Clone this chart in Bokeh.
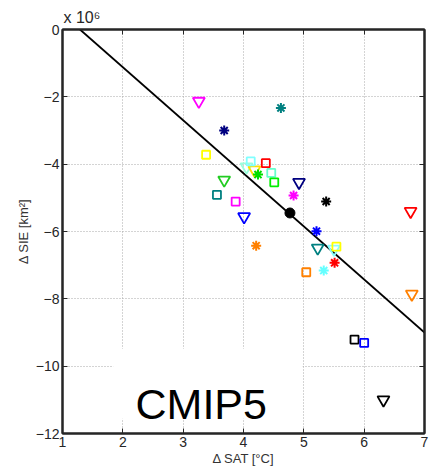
from bokeh.plotting import figure
from bokeh.models import (LinearAxis, FixedTicker, Label, BoxAnnotation, ColumnDataSource,
                          Range1d, CustomLabelingPolicy)
from bokeh.embed import file_html
from bokeh.resources import INLINE

# ---- data ----
x_ticks = [1, 2, 3, 4, 5, 6, 7]
y_ticks = [0, -2, -4, -6, -8, -10, -12]
y_tick_labels = ["0", "\u22122", "\u22124", "\u22126", "\u22128", "\u221210", "\u221212"]
y_scale_text = "x 10\u2076"

# regression line (end points)
fit_x = [1.29, 7.0]
fit_y = [0.0, -9.0]

# inverted triangles
tri_x = [3.26, 4.05, 4.18, 3.68, 4.92, 4.01, 5.23, 6.77, 6.79, 6.32, 5.50]
tri_y = [-2.13, -4.08, -4.17, -4.47, -4.54, -5.56, -6.49, -5.40, -7.86, -11.0, -6.52]
tri_c = ["#FF00FF", "#99FFDD", "#FFE000", "#22CC22", "#000080", "#0000FF",
         "#008080", "#FF0000", "#FF8000", "#000000", "#88FFFF"]

# squares
sq_x = [3.38, 4.12, 4.37, 4.46, 4.51, 3.56, 3.87, 5.54, 5.04, 5.84, 6.00]
sq_y = [-3.72, -3.92, -3.97, -4.26, -4.54, -4.91, -5.11, -6.45, -7.21, -9.21, -9.31]
sq_c = ["#FFFF00", "#80FFFF", "#FF0000", "#66FFCC", "#00EE00", "#008080",
        "#FF00FF", "#FFFF00", "#FF8000", "#000000", "#0000FF"]

# asterisks
ast_x = [3.68, 4.62, 4.24, 4.83, 5.37, 5.21, 4.21, 5.51, 5.33]
ast_y = [-3.00, -2.33, -4.31, -4.93, -5.11, -5.99, -6.42, -6.93, -7.16]
ast_c = ["#000080", "#008080", "#00DD00", "#FF00FF", "#000000", "#0000FF",
         "#FF8000", "#FF0000", "#66FFFF"]

# multi-model mean
mean_x = [4.77]
mean_y = [-5.45]

ink = "#262626"
font = "Liberation Sans"

p = figure(width=429, height=470, output_backend="svg", toolbar_location=None,
           x_range=Range1d(1, 7), y_range=Range1d(-12, 0),
           min_border_left=62, min_border_top=29, min_border_bottom=37, min_border_right=2,
           title=y_scale_text)

p.title.align = "left"
p.title.offset = 1
p.title.standoff = 0
p.title.text_font = font
p.title.text_font_size = "16px"
p.title.text_font_style = "normal"
p.title.text_color = ink

p.background_fill_color = "white"
p.outline_line_color = "#1a1a1a"
p.outline_line_width = 2

for ax in (p.xaxis[0], p.yaxis[0]):
    ax.axis_line_color = ink
    ax.axis_line_width = 2
    ax.major_tick_line_color = ink
    ax.major_tick_line_width = 1
    ax.major_tick_in = 5
    ax.major_tick_out = 0
    ax.minor_tick_line_color = None
    ax.major_label_text_font = font
    ax.major_label_text_font_size = "14px"
    ax.major_label_text_color = ink
    ax.axis_label_text_font = font
    ax.axis_label_text_font_size = "13px"
    ax.axis_label_text_font_style = "normal"
    ax.axis_label_text_color = "#333333"

p.xaxis.ticker = FixedTicker(ticks=x_ticks)
p.yaxis.ticker = FixedTicker(ticks=y_ticks)
p.yaxis.major_label_overrides = {t: s for t, s in zip(y_ticks, y_tick_labels)}
p.xaxis.major_label_standoff = 3
p.yaxis.major_label_standoff = 3
p.xaxis.axis_label = "\u0394 SAT [\u00b0C]"
p.yaxis.axis_label = "\u0394 SIE [km\u00b2]"
p.xaxis.axis_label_standoff = 1
p.yaxis.axis_label_standoff = 2

# box axes (top / right ticks, no labels)
no_labels = CustomLabelingPolicy(code="""
    for (const i of indices) indices.unset(i)
    return indices
""")
for loc, tk in (("above", x_ticks), ("right", y_ticks)):
    a = LinearAxis(ticker=FixedTicker(ticks=tk), major_label_policy=no_labels,
                   major_label_text_font_size="1px",
                   major_label_standoff=0, major_tick_in=5, major_tick_out=0,
                   minor_tick_line_color=None, axis_line_color=ink, axis_line_width=2,
                   major_tick_line_color=ink)
    p.add_layout(a, loc)

for g in (p.xgrid[0], p.ygrid[0]):
    g.grid_line_color = "#a8a8a8"
    g.grid_line_dash = "1 2"
    g.grid_line_width = 1
p.xgrid.ticker = FixedTicker(ticks=x_ticks[1:-1])
p.ygrid.ticker = FixedTicker(ticks=y_ticks[1:-1])

p.line(fit_x, fit_y, line_color="black", line_width=1.8)

p.scatter(x="x", y="y", source=ColumnDataSource(dict(x=tri_x, y=tri_y, c=tri_c)),
          marker="inverted_triangle", size=12, fill_color=None, line_color="c", line_width=1.8)
p.scatter(x="x", y="y", source=ColumnDataSource(dict(x=sq_x, y=sq_y, c=sq_c)),
          marker="square", size=8, fill_color=None, line_color="c", line_width=1.8)
p.scatter(x="x", y="y", source=ColumnDataSource(dict(x=ast_x, y=ast_y, c=ast_c)),
          marker="asterisk", size=10, line_color="c", line_width=2)
p.scatter(mean_x, mean_y, marker="circle", size=10, fill_color="black", line_color="black")

# white text box covering the grid
p.add_layout(BoxAnnotation(left=1.84, right=4.98, top=-9.48, bottom=-11.56,
                           fill_color="white", fill_alpha=1.0, line_color=None))
p.add_layout(Label(x=2.21, y=-11.11, text="CMIP5", text_font=font, text_font_size="43px",
                   text_color="black", text_baseline="alphabetic"))

open("out.html", "w").write(file_html(p, INLINE))
